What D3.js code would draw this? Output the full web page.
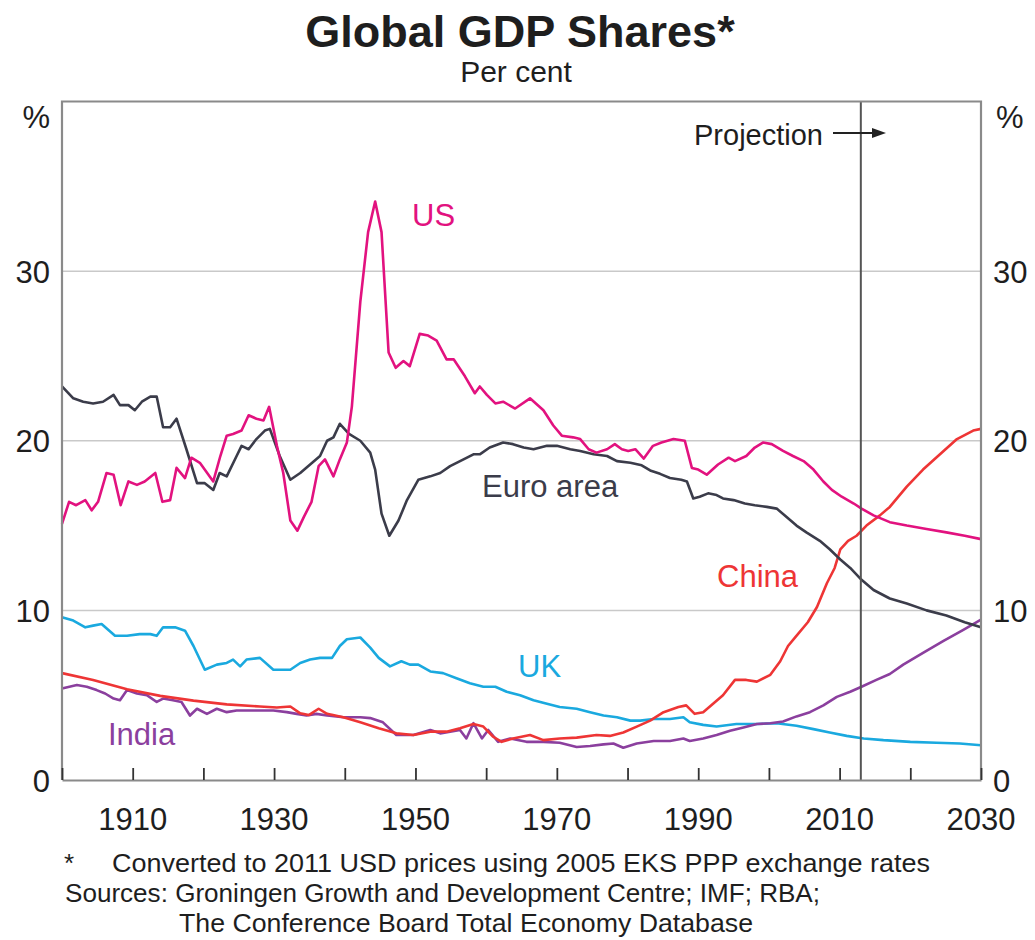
<!DOCTYPE html>
<html>
<head>
<meta charset="utf-8">
<script src="https://cdn.jsdelivr.net/npm/d3@7"></script>
<style>
  html, body { margin: 0; padding: 0; background: #fff; }
  svg { display: block; }
  text { font-family: "Liberation Sans", Arial, sans-serif; fill: #1e1e1e; }
</style>
</head>
<body>
<svg id="chart" width="1035" height="940"></svg>
<script>
// ---------------- DATA ----------------
const title = "Global GDP Shares*";
const subtitle = "Per cent";
const xTickYears = [1900,1910,1920,1930,1940,1950,1960,1970,1980,1990,2000,2010,2020,2030];
const xLabelYears = [1910,1930,1950,1970,1990,2010,2030];
const yTicks = [0,10,20,30];
const projectionYear = 2013;

const usYears = [1900,1901,1902,1903.3,1904.2,1905.1,1906.3,1907.3,1908.3,1909.4,1910.6,1911.7,1913.2,1914.2,1915.3,1916.2,1917.4,1918.3,1919.5,1921.4,1922.4,1923.3,1924.2,1925.4,1926.4,1927.5,1928.5,1929.3,1930.4,1931.3,1932.3,1933.3,1934.2,1935.3,1936.3,1937.2,1938.4,1939.3,1940.3,1941,1942.2,1943.3,1944.3,1945.2,1946.2,1947.2,1948.3,1949.2,1950.6,1951.8,1953,1954.4,1955.4,1957,1958.4,1959.1,1960.1,1961.3,1962.4,1964.1,1966.2,1968.1,1969.5,1970.7,1972.3,1973.3,1974.5,1975.6,1977.1,1978.2,1979.2,1980.1,1981.1,1982.3,1983.6,1984.8,1986.5,1988.1,1989.1,1990,1991.2,1992.8,1994.3,1995.2,1996.8,1998,1999.2,2000.4,2002,2003.4,2004.9,2006.3,2007.7,2008.9,2010.3,2012,2013.1,2014.8,2017.1,2019.5,2022.3,2025.1,2027.7,2030];
const usValues = [15.1,16.4,16.2,16.5,15.9,16.4,18.1,18.0,16.2,17.6,17.4,17.6,18.1,16.4,16.5,18.4,17.8,19.0,18.7,17.6,19.1,20.3,20.4,20.6,21.5,21.3,21.2,22.0,19.7,18.1,15.3,14.7,15.5,16.4,18.5,18.9,17.9,18.9,19.9,22.0,28.2,32.3,34.1,32.3,25.2,24.3,24.7,24.4,26.3,26.2,25.9,24.8,24.8,23.8,22.8,23.2,22.7,22.2,22.3,21.9,22.5,21.8,20.9,20.3,20.2,20.1,19.5,19.3,19.5,19.8,19.5,19.4,19.5,18.95,19.7,19.9,20.1,20.0,18.4,18.3,18.0,18.6,19.0,18.8,19.1,19.6,19.9,19.8,19.4,19.1,18.8,18.3,17.6,17.1,16.7,16.3,16.0,15.6,15.2,15.0,14.8,14.6,14.4,14.2];

const euroYears = [1900,1901.6,1903,1904.4,1905.8,1907.3,1908.2,1909.4,1910.3,1911.3,1912.5,1913.4,1914.3,1915.3,1916.2,1917.6,1919.1,1920.2,1921.4,1922.3,1923.3,1924.7,1925.4,1926.4,1927.5,1928.7,1929.4,1930.8,1932.3,1933.7,1935.1,1936.5,1937.5,1938.4,1939.3,1940.6,1942.2,1943.6,1944.3,1945.2,1946.3,1947.6,1948.8,1950.4,1952.1,1953.5,1954.9,1956.8,1958.2,1959.1,1960.5,1962.4,1963.8,1965.3,1966.7,1968.6,1970,1971.9,1973.3,1975.2,1977.1,1978.5,1980.4,1982,1983.2,1984.6,1986,1987.6,1988.4,1989.3,1990.2,1991.4,1992.6,1993.5,1995,1996.6,1998,1999.7,2001.1,2002.5,2003.9,2005.3,2007.2,2008.6,2010.1,2011.5,2013.1,2014.8,2017.1,2019.5,2022.3,2025.1,2027.7,2030];
const euroValues = [23.2,22.5,22.3,22.2,22.3,22.7,22.1,22.1,21.8,22.3,22.6,22.6,20.8,20.8,21.3,19.5,17.5,17.5,17.1,18.1,17.9,19.1,19.7,19.5,20.1,20.6,20.7,19.1,17.7,18.1,18.6,19.1,20.0,20.2,21.0,20.4,20.0,19.3,18.3,15.7,14.4,15.3,16.5,17.7,17.9,18.1,18.5,18.9,19.2,19.2,19.6,19.9,19.8,19.6,19.5,19.7,19.7,19.5,19.4,19.2,19.1,18.8,18.7,18.55,18.25,18.05,17.8,17.7,17.6,16.6,16.7,16.9,16.8,16.6,16.5,16.3,16.2,16.1,16.0,15.5,15.0,14.6,14.1,13.6,13.0,12.5,11.8,11.2,10.7,10.4,10.0,9.7,9.3,9.0];

const chinaYears = [1900,1904.4,1909.2,1913.9,1918.6,1923.3,1928,1930.4,1932.3,1933.7,1934.9,1936.3,1937.5,1939.8,1942.2,1944.8,1947.3,1949.7,1952.1,1954.4,1956.3,1958.2,1959.6,1961,1962.2,1963.8,1966.2,1968.1,1970.4,1972.8,1975.6,1977.5,1979.4,1981.3,1983.2,1985.1,1987.2,1988.3,1989.5,1990.7,1992.1,1993.5,1995.2,1996.8,1998.3,2000.2,2001.6,2002.7,2003.8,2005.5,2006.8,2008.2,2009.3,2010.1,2011.2,2012.4,2013.8,2015.7,2017.1,2019.5,2021.8,2024.2,2026.6,2028.9,2030];
const chinaValues = [6.3,5.9,5.35,4.96,4.68,4.46,4.33,4.27,4.33,3.93,3.83,4.2,3.9,3.7,3.4,3.05,2.75,2.65,2.85,2.85,3.05,3.3,3.15,2.55,2.25,2.45,2.65,2.35,2.45,2.5,2.65,2.6,2.8,3.15,3.5,4.0,4.3,4.4,3.9,4.0,4.5,5.0,5.9,5.9,5.8,6.2,7.0,7.9,8.45,9.3,10.2,11.6,12.5,13.6,14.1,14.4,15.0,15.6,16.1,17.3,18.3,19.2,20.1,20.6,20.7];

const ukYears = [1900,1901.6,1903.3,1904.4,1905.6,1907.5,1909.2,1911,1912.5,1913.4,1914.3,1916,1917.4,1918.6,1920.2,1921.9,1923.3,1924.2,1925.2,1926.1,1928,1929.9,1931.3,1932.3,1933.7,1935.1,1936.5,1938.2,1939.3,1940.3,1942.2,1943.6,1944.8,1946.4,1948,1949.2,1950.4,1952.1,1953.9,1955.8,1957.7,1959.6,1961.3,1962.9,1964.8,1966.7,1968.6,1970.4,1972.8,1974.7,1976.6,1978.5,1980.4,1981.8,1983.7,1986,1987.9,1988.8,1990.7,1992.6,1995.4,1998.3,2001.1,2003.9,2006.3,2008.6,2011,2013.4,2016.2,2020,2023.7,2027,2030];
const ukValues = [9.6,9.4,9.0,9.1,9.2,8.5,8.5,8.6,8.6,8.5,9.0,9.0,8.8,7.9,6.5,6.8,6.9,7.1,6.7,7.1,7.2,6.5,6.5,6.5,6.9,7.1,7.2,7.2,7.9,8.3,8.4,7.8,7.2,6.7,7.0,6.8,6.8,6.4,6.3,6.0,5.7,5.5,5.5,5.2,5.0,4.7,4.5,4.3,4.2,4.0,3.8,3.7,3.5,3.5,3.6,3.6,3.7,3.4,3.25,3.15,3.3,3.3,3.35,3.2,3.0,2.8,2.6,2.45,2.35,2.25,2.2,2.15,2.05];

const indiaYears = [1900,1902.1,1903.5,1904.9,1906.1,1907.3,1908.2,1909.2,1910.6,1912,1913.4,1914.3,1915.7,1916.9,1918.1,1919.1,1920.5,1921.9,1923.3,1924.7,1926.6,1928,1929.9,1931.8,1933.2,1934.6,1936,1937.5,1939.8,1942.2,1943.6,1945.4,1947.3,1949.7,1952.1,1953.5,1954.9,1956.3,1957.2,1958.2,1959.4,1960.3,1961.7,1963.4,1965.7,1968.1,1970.4,1972.8,1974.7,1976.6,1978,1979.4,1981.3,1983.7,1986,1987.9,1988.8,1990.7,1992.6,1994.5,1996.4,1998.3,2000.2,2002,2003.9,2005.8,2007.7,2009.6,2011.5,2013.1,2015.2,2017.1,2019,2021.8,2024.7,2027.5,2030];
const indiaValues = [5.4,5.6,5.5,5.3,5.1,4.8,4.7,5.3,5.1,5.0,4.6,4.8,4.7,4.6,3.8,4.2,3.9,4.2,4.0,4.1,4.1,4.1,4.1,4.0,3.9,3.8,3.9,3.8,3.7,3.7,3.65,3.4,2.65,2.65,2.95,2.75,2.85,2.95,2.45,3.35,2.45,2.95,2.25,2.45,2.25,2.25,2.2,1.95,2.0,2.1,2.15,1.9,2.15,2.3,2.3,2.45,2.3,2.45,2.65,2.9,3.1,3.3,3.35,3.45,3.75,4.0,4.4,4.9,5.2,5.5,5.9,6.25,6.8,7.5,8.2,8.85,9.45];

const seriesNames = ["UK","India","China","Euro area","US"];
const seriesColors = ["#1aa9df","#8b3f9e","#ee3535","#3b3c4a","#e2127f"];

const footnotes = [
  "Converted to 2011 USD prices using 2005 EKS PPP exchange rates",
  "Sources: Groningen Growth and Development Centre; IMF; RBA;",
  "The Conference Board Total Economy Database"
];

// ---------------- CHART ----------------
const svg = d3.select("#chart");
const plotLeft = 62, plotRight = 981, plotTop = 101.5, plotBottom = 780;
const x = d3.scaleLinear().domain([1900, 2030]).range([plotLeft, plotRight]);
const y = d3.scaleLinear().domain([0, 40]).range([plotBottom, plotTop]);

const zip = (xs, vs) => xs.map((yr, i) => ({year: yr, value: vs[i]}));
const seriesData = [
  zip(ukYears, ukValues),
  zip(indiaYears, indiaValues),
  zip(chinaYears, chinaValues),
  zip(euroYears, euroValues),
  zip(usYears, usValues)
];

// Title
svg.append("text").attr("x", 520).attr("y", 47).attr("text-anchor", "middle")
  .style("font-size", "45px").style("font-weight", "bold").text(title);
svg.append("text").attr("x", 516).attr("y", 82).attr("text-anchor", "middle")
  .style("font-size", "30px").text(subtitle);

// Gridlines
svg.append("g").selectAll("line").data(yTicks.filter(d => d > 0)).join("line")
  .attr("x1", plotLeft).attr("x2", plotRight)
  .attr("y1", d => y(d)).attr("y2", d => y(d))
  .attr("stroke", "#c9c9c9").attr("stroke-width", 1.5);

// Lines
const line = d3.line().x(d => x(d.year)).y(d => y(d.value));
svg.append("g").selectAll("path").data(seriesData).join("path")
  .attr("d", line).attr("fill", "none")
  .attr("stroke", (d, i) => seriesColors[i])
  .attr("stroke-width", 2.6).attr("stroke-linejoin", "round");

// Projection line
svg.append("line").attr("x1", x(projectionYear)).attr("x2", x(projectionYear))
  .attr("y1", plotTop).attr("y2", plotBottom).attr("stroke", "#555").attr("stroke-width", 2);

// Frame (left, top, right) and bottom axis
svg.append("path")
  .attr("d", `M${plotLeft},${plotBottom}V${plotTop}H${plotRight}V${plotBottom}`)
  .attr("fill", "none").attr("stroke", "#8a8a8a").attr("stroke-width", 2.2);

const xAxis = d3.axisBottom(x).tickValues(xTickYears).tickSizeInner(-12).tickSizeOuter(0).tickFormat("");
const gx = svg.append("g").attr("transform", `translate(0,${plotBottom})`).call(xAxis);
gx.select(".domain").attr("stroke", "#8a8a8a").attr("stroke-width", 2.2);
gx.selectAll(".tick line").attr("stroke", "#333").attr("stroke-width", 1.8);

svg.append("g").selectAll("text").data(xLabelYears).join("text")
  .attr("x", d => x(d)).attr("y", 830).attr("text-anchor", "middle")
  .style("font-size", "31px").text(d => d);

// Y labels
svg.append("g").selectAll("text").data(yTicks).join("text")
  .attr("x", 50).attr("y", d => y(d) + 11.5).attr("text-anchor", "end")
  .style("font-size", "31px").text(d => d);
svg.append("g").selectAll("text").data(yTicks).join("text")
  .attr("x", 993).attr("y", d => y(d) + 11.5).attr("text-anchor", "start")
  .style("font-size", "31px").text(d => d);
svg.append("text").attr("x", 50).attr("y", 128).attr("text-anchor", "end")
  .style("font-size", "31px").text("%");
svg.append("text").attr("x", 996).attr("y", 128).attr("text-anchor", "start")
  .style("font-size", "31px").text("%");

// Projection annotation
svg.append("text").attr("x", 823).attr("y", 145).attr("text-anchor", "end")
  .style("font-size", "29px").text("Projection");
svg.append("line").attr("x1", 833).attr("x2", 874).attr("y1", 133).attr("y2", 133)
  .attr("stroke", "#222").attr("stroke-width", 1.8);
svg.append("path").attr("d", "M872,128L886,133L872,138Z").attr("fill", "#222");

// Series labels
const seriesLabels = [
  {name: "US", x: 412, y: 226, color: seriesColors[4]},
  {name: "Euro area", x: 482, y: 497, color: "#3b3c4a"},
  {name: "China", x: 717, y: 587, color: seriesColors[2]},
  {name: "UK", x: 518, y: 677, color: seriesColors[0]},
  {name: "India", x: 108, y: 745, color: seriesColors[1]}
];
svg.append("g").selectAll("text").data(seriesLabels).join("text")
  .attr("x", d => d.x).attr("y", d => d.y)
  .style("font-size", "31px").style("fill", d => d.color).text(d => d.name);

// Footnotes
svg.append("text").attr("x", 64).attr("y", 872).style("font-size", "26px").text("*");
svg.append("text").attr("x", 112).attr("y", 872).style("font-size", "26px")
  .attr("textLength", 818).attr("lengthAdjust", "spacingAndGlyphs").text(footnotes[0]);
svg.append("text").attr("x", 65).attr("y", 902).style("font-size", "26px")
  .attr("textLength", 755).attr("lengthAdjust", "spacingAndGlyphs").text(footnotes[1]);
svg.append("text").attr("x", 179).attr("y", 932).style("font-size", "26px")
  .attr("textLength", 574).attr("lengthAdjust", "spacingAndGlyphs").text(footnotes[2]);
</script>
</body>
</html>
